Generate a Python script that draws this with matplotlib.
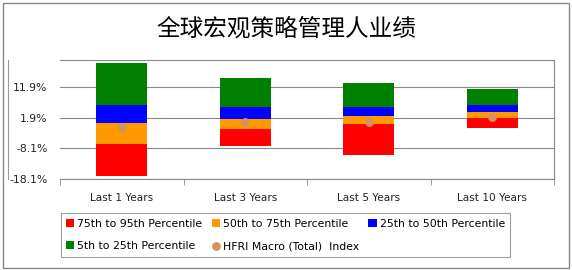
import matplotlib.pyplot as plt
import numpy as np
from matplotlib.lines import Line2D
from matplotlib.patches import Rectangle

# data (percent returns)
periods = ['Last 1 Years', 'Last 3 Years', 'Last 5 Years', 'Last 10 Years']
p95 = [-17.1, -7.3, -10.3, -1.5]    # bottom of red
p75 = [-6.8, -1.8, -0.2, 1.8]       # red / orange
p50 = [0.0, 1.45, 2.3, 3.6]         # orange / blue
p25 = [6.0, 5.25, 5.25, 6.0]        # blue / green
p5 = [19.6, 14.7, 13.1, 11.4]       # top of green
hfri = [-1.0, 0.4, 0.6, 2.1]
yticks = [-18.1, -8.1, 1.9, 11.9]

plt.rcParams['font.family'] = ['DejaVu Sans']

fig = plt.figure(figsize=(5.72, 2.70), dpi=100)
ax = fig.add_axes([60/572, 1-179/270, (554-60)/572, (179-60)/270])

x = np.arange(len(periods))
w = 0.41
lo = np.array(p95)
segs = [(p75, '#FF0000', '75th to 95th Percentile'),
        (p50, '#FF9900', '50th to 75th Percentile'),
        (p25, '#0000FF', '25th to 50th Percentile'),
        (p5, '#008000', '5th to 25th Percentile')]
handles = []
for hi, col, lab in segs:
    hi = np.array(hi)
    b = ax.bar(x, hi - lo, bottom=lo, width=w, color=col, label=lab, zorder=3)
    handles.append(b)
    lo = hi
dot = ax.scatter(x, hfri, s=28, color='#D4935A', zorder=4, label='HFRI Macro (Total)  Index')

ax.set_xlim(-0.5, len(periods) - 0.5)
ax.set_ylim(-18.1, 20.7)
ax.set_yticks(yticks)
ax.set_yticklabels([f'{v:.1f}%' for v in yticks], fontsize=7.8, color='#222222')
ax.set_xticks(np.arange(len(periods) + 1) - 0.5, minor=True)
ax.set_xticks(x)
ax.set_xticklabels(periods, fontsize=7.6, color='#222222')
ax.tick_params(axis='x', which='major', length=0, pad=10)
ax.tick_params(axis='x', which='minor', length=4, color='#888888')
ax.tick_params(axis='y', length=0, pad=9)
ax.grid(axis='y', color='#888888', linewidth=0.8, zorder=0)
ax.spines['left'].set_visible(False)
for s in ['top', 'right', 'bottom']:
    ax.spines[s].set_color('#888888')
    ax.spines[s].set_linewidth(0.8)

# title
fig.text(0.5, 1 - 29/270, '全球宏观策略管理人业绩', ha='center', va='center',
         fontsize=17, family=['Noto Sans CJK SC'], fontweight='light', color='black')

# legend in row-major order
order = [handles[0], handles[3], handles[1], dot, handles[2]]
leg = fig.legend(order, [h.get_label() for h in order], ncol=3,
                 loc='center', bbox_to_anchor=(285.5/572, 1 - 235/270),
                 fontsize=7.8, frameon=True, fancybox=False, edgecolor='#888888',
                 handlelength=0.75, handleheight=0.75, handletextpad=0.3,
                 columnspacing=0.85, labelspacing=1.15, borderpad=0.5)
leg.get_frame().set_linewidth(0.8)

# outer border and the stray axis line at left
fig.add_artist(Rectangle((3/572, 2/270), 566/572, 265/270, transform=fig.transFigure,
                         fill=False, edgecolor='#888888', linewidth=1))
fig.add_artist(Line2D([8/572, 8/572], [1-60/270, 1-179/270], transform=fig.transFigure,
                      color='#999999', linewidth=0.8))

fig.savefig('out.png', dpi=100)
